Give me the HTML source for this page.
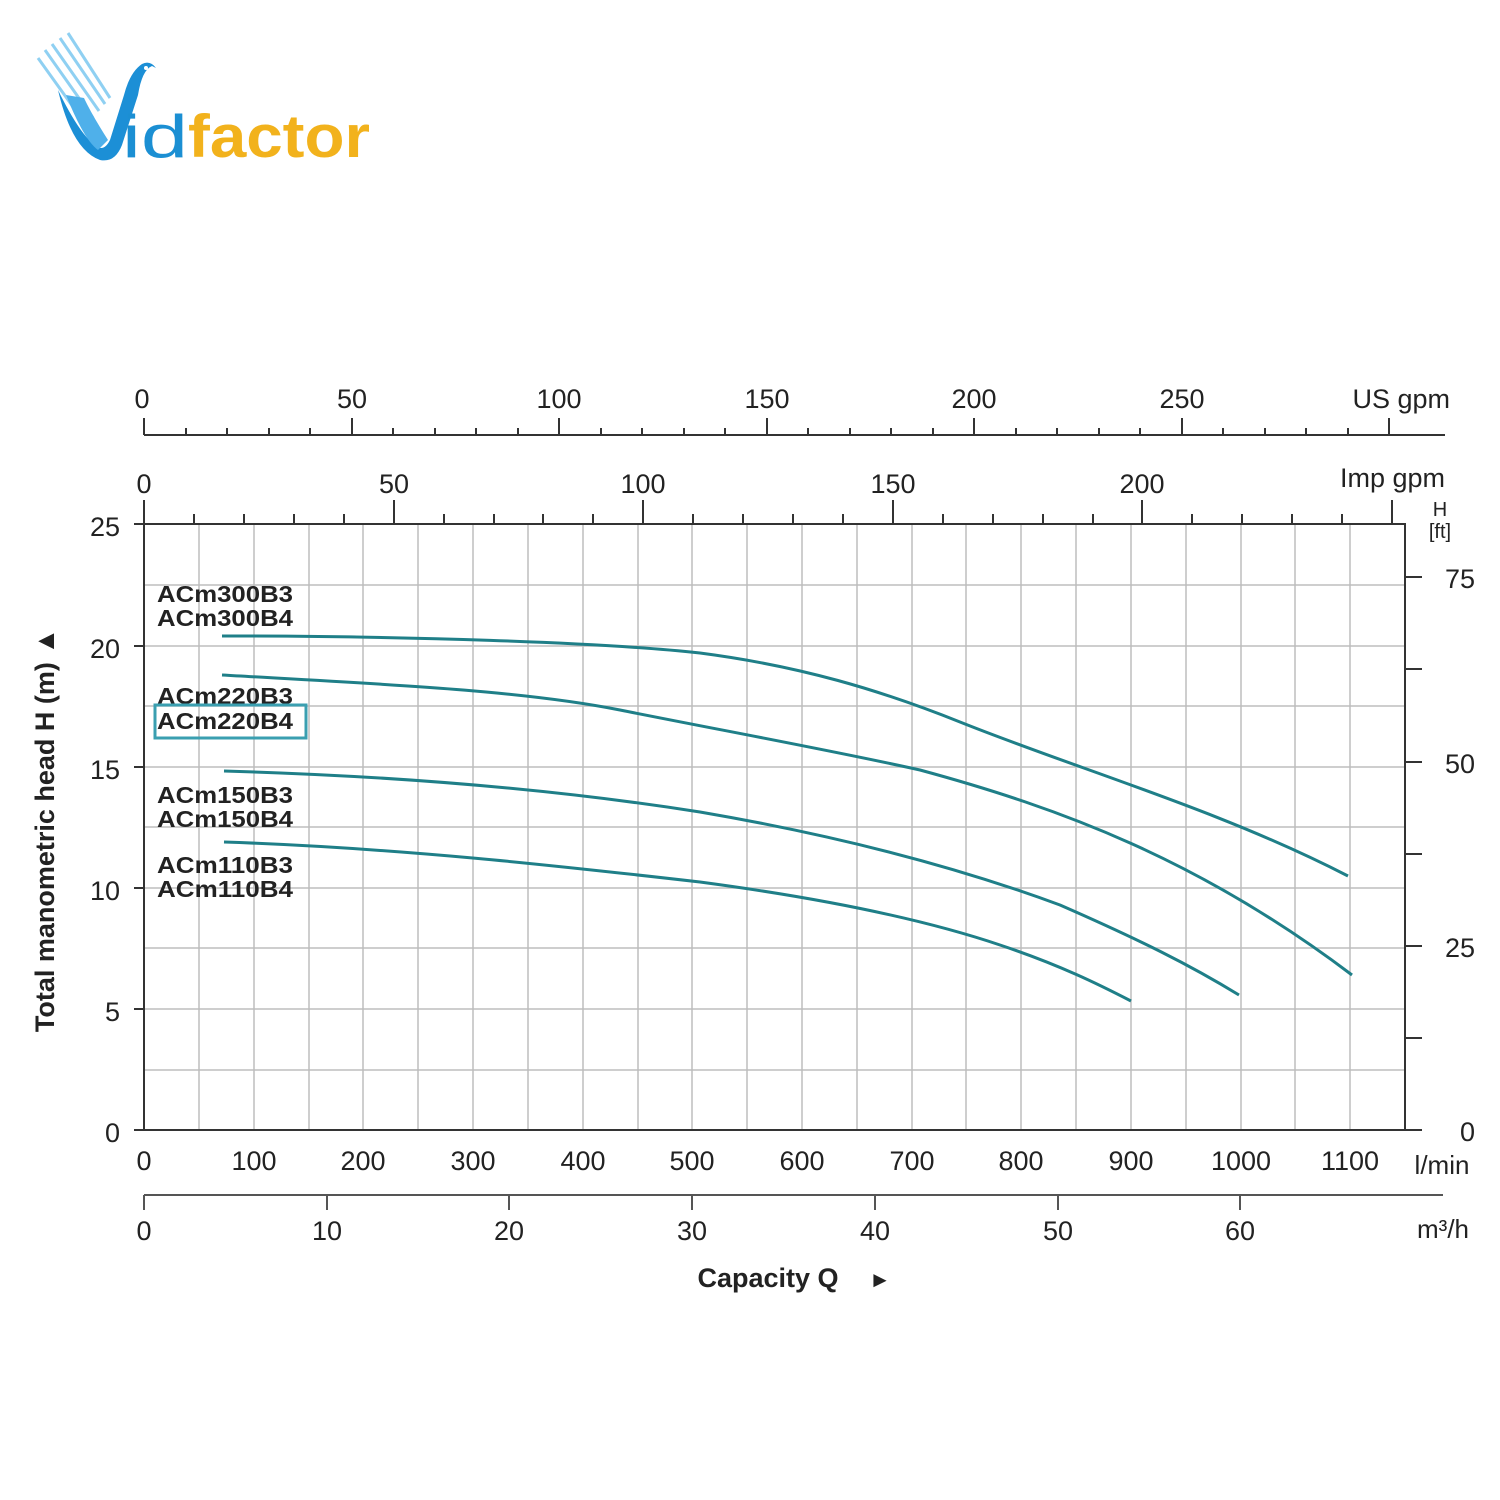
<!DOCTYPE html>
<html><head><meta charset="utf-8"><style>
html,body{margin:0;padding:0;background:#fff;}
svg{display:block;}
text{font-family:"Liberation Sans",sans-serif;fill:#222;}
</style></head><body>
<svg width="1500" height="1500" viewBox="0 0 1500 1500" xmlns="http://www.w3.org/2000/svg">
<!-- logo -->
<g>
<g stroke="#8fd0f2" stroke-width="3">
<line x1="38" y1="58" x2="86" y2="125"/><line x1="45" y1="50" x2="93" y2="118"/><line x1="52" y1="44" x2="99" y2="111"/><line x1="60" y1="38" x2="105" y2="104"/><line x1="68" y1="33" x2="110" y2="98"/>
</g>
<path d="M58 90 Q72 150 100 160 Q115 163 122 145 L138 95 Q142 70 152 66 L156 68 Q150 60 142 64 Q130 72 124 95 L110 140 Q104 152 96 146 Q80 135 58 90Z" fill="#1c8fd6"/>
<path d="M66 95 Q84 140 98 150 L108 140 Q92 115 84 98Z" fill="#4fb0ea"/>
<circle cx="146" cy="68" r="2" fill="#fff"/>
<text x="122" y="157" font-size="60" style="fill:#1b8fd3" textLength="66" lengthAdjust="spacingAndGlyphs">id</text>
<text x="188" y="157" font-size="60" font-weight="bold" style="fill:#f2b21c" textLength="182" lengthAdjust="spacingAndGlyphs">factor</text>
</g>

<!-- grid -->
<g stroke="#bdbdbd" stroke-width="1.5">
<line x1="199" y1="524" x2="199" y2="1130"/><line x1="254" y1="524" x2="254" y2="1130"/><line x1="309" y1="524" x2="309" y2="1130"/><line x1="363" y1="524" x2="363" y2="1130"/><line x1="418" y1="524" x2="418" y2="1130"/><line x1="473" y1="524" x2="473" y2="1130"/><line x1="528" y1="524" x2="528" y2="1130"/><line x1="583" y1="524" x2="583" y2="1130"/><line x1="638" y1="524" x2="638" y2="1130"/><line x1="692" y1="524" x2="692" y2="1130"/><line x1="747" y1="524" x2="747" y2="1130"/><line x1="802" y1="524" x2="802" y2="1130"/><line x1="857" y1="524" x2="857" y2="1130"/><line x1="912" y1="524" x2="912" y2="1130"/><line x1="966" y1="524" x2="966" y2="1130"/><line x1="1021" y1="524" x2="1021" y2="1130"/><line x1="1076" y1="524" x2="1076" y2="1130"/><line x1="1131" y1="524" x2="1131" y2="1130"/><line x1="1186" y1="524" x2="1186" y2="1130"/><line x1="1241" y1="524" x2="1241" y2="1130"/><line x1="1295" y1="524" x2="1295" y2="1130"/><line x1="1350" y1="524" x2="1350" y2="1130"/>
<line x1="144" y1="585" x2="1405" y2="585"/><line x1="144" y1="646" x2="1405" y2="646"/><line x1="144" y1="706" x2="1405" y2="706"/><line x1="144" y1="767" x2="1405" y2="767"/><line x1="144" y1="827" x2="1405" y2="827"/><line x1="144" y1="888" x2="1405" y2="888"/><line x1="144" y1="948" x2="1405" y2="948"/><line x1="144" y1="1009" x2="1405" y2="1009"/><line x1="144" y1="1070" x2="1405" y2="1070"/>
</g>
<rect x="144" y="524" width="1261" height="606" fill="none" stroke="#333" stroke-width="2"/>
<g stroke="#333" stroke-width="2">
<line x1="134" y1="524" x2="144" y2="524"/><line x1="134" y1="646" x2="144" y2="646"/><line x1="134" y1="767" x2="144" y2="767"/><line x1="134" y1="888" x2="144" y2="888"/><line x1="134" y1="1009" x2="144" y2="1009"/><line x1="134" y1="1130" x2="144" y2="1130"/>
<line x1="1405" y1="577" x2="1422" y2="577"/><line x1="1405" y1="669" x2="1422" y2="669"/><line x1="1405" y1="762" x2="1422" y2="762"/><line x1="1405" y1="854" x2="1422" y2="854"/><line x1="1405" y1="946" x2="1422" y2="946"/><line x1="1405" y1="1038" x2="1422" y2="1038"/><line x1="1405" y1="1130" x2="1422" y2="1130"/>
</g>
<g font-size="27" text-anchor="end">
<text x="120" y="536">25</text><text x="120" y="658">20</text><text x="120" y="779">15</text><text x="120" y="900">10</text><text x="120" y="1021">5</text><text x="120" y="1142">0</text>
</g>
<g font-size="27" text-anchor="end">
<text x="1475" y="588">75</text><text x="1475" y="773">50</text><text x="1475" y="957">25</text><text x="1475" y="1141">0</text>
</g>
<text x="1440" y="516" font-size="20" text-anchor="middle">H</text>
<text x="1440" y="538" font-size="20" text-anchor="middle">[ft]</text>

<g stroke="#333" stroke-width="2">
<line x1="144" y1="500" x2="144" y2="524"/><line x1="394" y1="500" x2="394" y2="524"/><line x1="643" y1="500" x2="643" y2="524"/><line x1="893" y1="500" x2="893" y2="524"/><line x1="1142" y1="500" x2="1142" y2="524"/><line x1="1392" y1="500" x2="1392" y2="524"/>
<line x1="194" y1="514" x2="194" y2="524"/><line x1="244" y1="514" x2="244" y2="524"/><line x1="294" y1="514" x2="294" y2="524"/><line x1="344" y1="514" x2="344" y2="524"/><line x1="444" y1="514" x2="444" y2="524"/><line x1="494" y1="514" x2="494" y2="524"/><line x1="543" y1="514" x2="543" y2="524"/><line x1="593" y1="514" x2="593" y2="524"/><line x1="693" y1="514" x2="693" y2="524"/><line x1="743" y1="514" x2="743" y2="524"/><line x1="793" y1="514" x2="793" y2="524"/><line x1="843" y1="514" x2="843" y2="524"/><line x1="943" y1="514" x2="943" y2="524"/><line x1="993" y1="514" x2="993" y2="524"/><line x1="1043" y1="514" x2="1043" y2="524"/><line x1="1093" y1="514" x2="1093" y2="524"/><line x1="1192" y1="514" x2="1192" y2="524"/><line x1="1242" y1="514" x2="1242" y2="524"/><line x1="1292" y1="514" x2="1292" y2="524"/><line x1="1342" y1="514" x2="1342" y2="524"/>
</g>
<g font-size="27" text-anchor="middle">
<text x="144" y="493">0</text><text x="394" y="493">50</text><text x="643" y="493">100</text><text x="893" y="493">150</text><text x="1142" y="493">200</text>
</g>
<text x="1445" y="487" font-size="27" text-anchor="end">Imp gpm</text>

<line x1="144" y1="435" x2="1445" y2="435" stroke="#333" stroke-width="2"/>
<g stroke="#333" stroke-width="2">
<line x1="144" y1="418" x2="144" y2="435"/><line x1="352" y1="418" x2="352" y2="435"/><line x1="559" y1="418" x2="559" y2="435"/><line x1="767" y1="418" x2="767" y2="435"/><line x1="974" y1="418" x2="974" y2="435"/><line x1="1182" y1="418" x2="1182" y2="435"/><line x1="1389" y1="418" x2="1389" y2="435"/>
<line x1="186" y1="428" x2="186" y2="435"/><line x1="227" y1="428" x2="227" y2="435"/><line x1="269" y1="428" x2="269" y2="435"/><line x1="310" y1="428" x2="310" y2="435"/><line x1="393" y1="428" x2="393" y2="435"/><line x1="435" y1="428" x2="435" y2="435"/><line x1="476" y1="428" x2="476" y2="435"/><line x1="518" y1="428" x2="518" y2="435"/><line x1="601" y1="428" x2="601" y2="435"/><line x1="642" y1="428" x2="642" y2="435"/><line x1="684" y1="428" x2="684" y2="435"/><line x1="725" y1="428" x2="725" y2="435"/><line x1="808" y1="428" x2="808" y2="435"/><line x1="850" y1="428" x2="850" y2="435"/><line x1="891" y1="428" x2="891" y2="435"/><line x1="933" y1="428" x2="933" y2="435"/><line x1="1016" y1="428" x2="1016" y2="435"/><line x1="1057" y1="428" x2="1057" y2="435"/><line x1="1099" y1="428" x2="1099" y2="435"/><line x1="1140" y1="428" x2="1140" y2="435"/><line x1="1223" y1="428" x2="1223" y2="435"/><line x1="1265" y1="428" x2="1265" y2="435"/><line x1="1306" y1="428" x2="1306" y2="435"/><line x1="1348" y1="428" x2="1348" y2="435"/>
</g>
<g font-size="27" text-anchor="middle">
<text x="142" y="408">0</text><text x="352" y="408">50</text><text x="559" y="408">100</text><text x="767" y="408">150</text><text x="974" y="408">200</text><text x="1182" y="408">250</text>
</g>
<text x="1450" y="408" font-size="27" text-anchor="end">US gpm</text>

<g font-size="27" text-anchor="middle">
<text x="144" y="1170">0</text><text x="254" y="1170">100</text><text x="363" y="1170">200</text><text x="473" y="1170">300</text><text x="583" y="1170">400</text><text x="692" y="1170">500</text><text x="802" y="1170">600</text><text x="912" y="1170">700</text><text x="1021" y="1170">800</text><text x="1131" y="1170">900</text><text x="1241" y="1170">1000</text><text x="1350" y="1170">1100</text>
</g>
<text x="1442" y="1174" font-size="26" text-anchor="middle">l/min</text>

<line x1="144" y1="1195" x2="1443" y2="1195" stroke="#555" stroke-width="2"/>
<g stroke="#555" stroke-width="2">
<line x1="144" y1="1195" x2="144" y2="1210"/><line x1="327" y1="1195" x2="327" y2="1210"/><line x1="509" y1="1195" x2="509" y2="1210"/><line x1="692" y1="1195" x2="692" y2="1210"/><line x1="875" y1="1195" x2="875" y2="1210"/><line x1="1058" y1="1195" x2="1058" y2="1210"/><line x1="1240" y1="1195" x2="1240" y2="1210"/>
</g>
<g font-size="27" text-anchor="middle">
<text x="144" y="1240">0</text><text x="327" y="1240">10</text><text x="509" y="1240">20</text><text x="692" y="1240">30</text><text x="875" y="1240">40</text><text x="1058" y="1240">50</text><text x="1240" y="1240">60</text>
</g>
<text x="1443" y="1238" font-size="26" text-anchor="middle">m³/h</text>
<text x="768" y="1287" font-size="27" font-weight="bold" text-anchor="middle">Capacity Q</text>
<text x="880" y="1287" font-size="22" text-anchor="middle">►</text>
<text transform="translate(54,830) rotate(-90)" font-size="27" font-weight="bold" text-anchor="middle">Total manometric head H (m)  ▲</text>

<g font-size="23" font-weight="bold">
<text x="157" y="602" textLength="136" lengthAdjust="spacingAndGlyphs">ACm300B3</text><text x="157" y="626" textLength="136" lengthAdjust="spacingAndGlyphs">ACm300B4</text>
<text x="157" y="704" textLength="136" lengthAdjust="spacingAndGlyphs">ACm220B3</text><text x="157" y="729" textLength="136" lengthAdjust="spacingAndGlyphs">ACm220B4</text>
<text x="157" y="803" textLength="136" lengthAdjust="spacingAndGlyphs">ACm150B3</text><text x="157" y="827" textLength="136" lengthAdjust="spacingAndGlyphs">ACm150B4</text>
<text x="157" y="873" textLength="136" lengthAdjust="spacingAndGlyphs">ACm110B3</text><text x="157" y="897" textLength="136" lengthAdjust="spacingAndGlyphs">ACm110B4</text>
</g>
<rect x="155" y="705" width="151" height="33" fill="none" stroke="#3a9fb0" stroke-width="3"/>

<g fill="none" stroke="#1f7f88" stroke-width="3">
<path d="M222 636 C400 636 600 642 700 653 C800 666 880 690 960 722 C1080 770 1220 810 1348 876"/>
<path d="M222 675 C380 684 520 690 620 710 C720 730 840 752 920 770 C1060 808 1200 860 1352 975"/>
<path d="M224 771 C400 776 560 790 700 812 C840 836 960 868 1060 905 C1140 940 1190 965 1239 995"/>
<path d="M224 842 C400 848 560 866 700 882 C820 898 920 918 1000 945 C1060 965 1100 985 1131 1001"/>
</g>
</svg>
</body></html>
